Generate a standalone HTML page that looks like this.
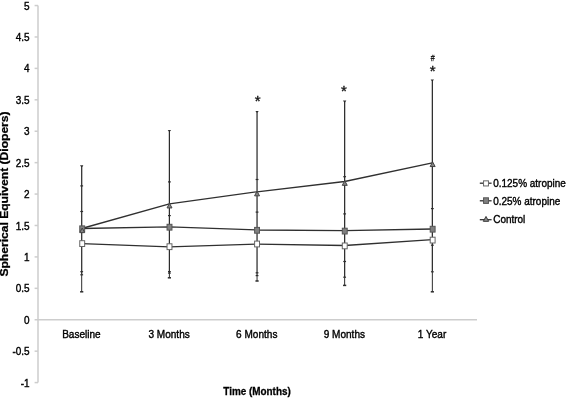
<!DOCTYPE html>
<html lang="en"><head><meta charset="utf-8"><title>Spherical Equivalent over Time</title>
<style>html,body{margin:0;padding:0;background:#fff}body{width:567px;height:399px;overflow:hidden}</style>
</head><body>
<svg width="567" height="399" viewBox="0 0 567 399" style="display:block">
<rect width="567" height="399" fill="#fff"/>
<g stroke="#cdcdcd" stroke-width="1.5" fill="none">
<line x1="38" y1="5.55" x2="38" y2="382.59"/>
<line x1="34.6" y1="319.75" x2="477" y2="319.75"/>
<line x1="34.6" y1="382.59" x2="38" y2="382.59"/>
<line x1="34.6" y1="351.17" x2="38" y2="351.17"/>
<line x1="34.6" y1="288.33" x2="38" y2="288.33"/>
<line x1="34.6" y1="256.91" x2="38" y2="256.91"/>
<line x1="34.6" y1="225.49" x2="38" y2="225.49"/>
<line x1="34.6" y1="194.07" x2="38" y2="194.07"/>
<line x1="34.6" y1="162.65" x2="38" y2="162.65"/>
<line x1="34.6" y1="131.23" x2="38" y2="131.23"/>
<line x1="34.6" y1="99.81" x2="38" y2="99.81"/>
<line x1="34.6" y1="68.39" x2="38" y2="68.39"/>
<line x1="34.6" y1="36.97" x2="38" y2="36.97"/>
<line x1="34.6" y1="5.55" x2="38" y2="5.55"/>
</g>
<g font-family="'Liberation Sans', Arial, sans-serif" font-size="11.4" fill="#000" stroke="#000" stroke-width="0.4" text-anchor="end">
<text transform="translate(29.6 386.64) scale(0.875 1)">-1</text>
<text transform="translate(29.6 355.22) scale(0.875 1)">-0.5</text>
<text transform="translate(29.6 323.80) scale(0.875 1)">0</text>
<text transform="translate(29.6 292.38) scale(0.875 1)">0.5</text>
<text transform="translate(29.6 260.96) scale(0.875 1)">1</text>
<text transform="translate(29.6 229.54) scale(0.875 1)">1.5</text>
<text transform="translate(29.6 198.12) scale(0.875 1)">2</text>
<text transform="translate(29.6 166.70) scale(0.875 1)">2.5</text>
<text transform="translate(29.6 135.28) scale(0.875 1)">3</text>
<text transform="translate(29.6 103.86) scale(0.875 1)">3.5</text>
<text transform="translate(29.6 72.44) scale(0.875 1)">4</text>
<text transform="translate(29.6 41.02) scale(0.875 1)">4.5</text>
<text transform="translate(29.6 9.60) scale(0.875 1)">5</text>
</g>
<g font-family="'Liberation Sans', Arial, sans-serif" font-size="11.3" fill="#000" stroke="#000" stroke-width="0.4" text-anchor="middle">
<text transform="translate(81.40 338.3) scale(0.89 1)">Baseline</text>
<text transform="translate(169.10 338.3) scale(0.89 1)">3 Months</text>
<text transform="translate(256.75 338.3) scale(0.89 1)">6 Months</text>
<text transform="translate(344.35 338.3) scale(0.89 1)">9 Months</text>
<text transform="translate(432.05 338.3) scale(0.89 1)">1 Year</text>
</g>
<text font-family="'Liberation Sans', Arial, sans-serif" font-size="11.2" font-weight="bold" fill="#000" stroke="#000" stroke-width="0.3" text-anchor="middle" transform="translate(257.0 394.9) scale(0.885 1)">Time (Months)</text>
<text font-family="'Liberation Sans', Arial, sans-serif" font-size="12.1" font-weight="bold" fill="#000" stroke="#000" stroke-width="0.3" text-anchor="middle" transform="translate(8.4 194.0) rotate(-90) scale(1 0.86)">Spherical Equivent (Diopers)</text>
<g stroke="#2c2c2c" stroke-width="1.05" fill="none">
<line x1="81.7" y1="166.0" x2="81.7" y2="274.8" stroke-width="1.25"/>
<line x1="81.7" y1="274.8" x2="81.7" y2="291.8" stroke-width="1.0"/>
<path d="M80.00 165.30 H83.40 L82.20 166.90 H81.20 Z" fill="#2c2c2c" stroke="none"/>
<line x1="80.30" y1="185.9" x2="83.10" y2="185.9" stroke-width="1.2"/>
<line x1="80.30" y1="211.5" x2="83.10" y2="211.5" stroke-width="1.2"/>
<line x1="80.30" y1="271.7" x2="83.10" y2="271.7" stroke-width="1.2"/>
<line x1="80.30" y1="274.8" x2="83.10" y2="274.8" stroke-width="1.2"/>
<line x1="80.10" y1="291.8" x2="83.30" y2="291.8" stroke-width="1.5"/>
<line x1="169.4" y1="130.6" x2="169.4" y2="273.1" stroke-width="1.25"/>
<line x1="169.4" y1="273.1" x2="169.4" y2="277.8" stroke-width="1.0"/>
<path d="M167.70 129.90 H171.10 L169.90 131.50 H168.90 Z" fill="#2c2c2c" stroke="none"/>
<line x1="168.00" y1="181.9" x2="170.80" y2="181.9" stroke-width="1.2"/>
<line x1="168.00" y1="215.6" x2="170.80" y2="215.6" stroke-width="1.2"/>
<line x1="168.00" y1="271.6" x2="170.80" y2="271.6" stroke-width="1.2"/>
<line x1="168.00" y1="273.1" x2="170.80" y2="273.1" stroke-width="1.2"/>
<line x1="167.80" y1="277.8" x2="171.00" y2="277.8" stroke-width="1.5"/>
<line x1="257.05" y1="111.6" x2="257.05" y2="275.6" stroke-width="1.25"/>
<line x1="257.05" y1="275.6" x2="257.05" y2="281.0" stroke-width="1.0"/>
<path d="M255.35 110.90 H258.75 L257.55 112.50 H256.55 Z" fill="#2c2c2c" stroke="none"/>
<line x1="255.65" y1="179.5" x2="258.45" y2="179.5" stroke-width="1.2"/>
<line x1="255.65" y1="212.1" x2="258.45" y2="212.1" stroke-width="1.2"/>
<line x1="255.65" y1="272.8" x2="258.45" y2="272.8" stroke-width="1.2"/>
<line x1="255.65" y1="275.6" x2="258.45" y2="275.6" stroke-width="1.2"/>
<line x1="255.45" y1="281.0" x2="258.65" y2="281.0" stroke-width="1.5"/>
<line x1="344.65" y1="101.3" x2="344.65" y2="277.2" stroke-width="1.25"/>
<line x1="344.65" y1="277.2" x2="344.65" y2="285.4" stroke-width="1.0"/>
<path d="M342.95 100.60 H346.35 L345.15 102.20 H344.15 Z" fill="#2c2c2c" stroke="none"/>
<line x1="343.25" y1="176.7" x2="346.05" y2="176.7" stroke-width="1.2"/>
<line x1="343.25" y1="213.9" x2="346.05" y2="213.9" stroke-width="1.2"/>
<line x1="343.25" y1="261.5" x2="346.05" y2="261.5" stroke-width="1.2"/>
<line x1="343.25" y1="277.2" x2="346.05" y2="277.2" stroke-width="1.2"/>
<line x1="343.05" y1="285.4" x2="346.25" y2="285.4" stroke-width="1.5"/>
<line x1="432.35" y1="80.1" x2="432.35" y2="271.8" stroke-width="1.25"/>
<line x1="432.35" y1="271.8" x2="432.35" y2="291.8" stroke-width="1.0"/>
<path d="M430.65 79.40 H434.05 L432.85 81.00 H431.85 Z" fill="#2c2c2c" stroke="none"/>
<line x1="430.95" y1="208.6" x2="433.75" y2="208.6" stroke-width="1.2"/>
<line x1="430.95" y1="245.2" x2="433.75" y2="245.2" stroke-width="1.2"/>
<line x1="430.95" y1="271.8" x2="433.75" y2="271.8" stroke-width="1.2"/>
<line x1="430.75" y1="291.8" x2="433.95" y2="291.8" stroke-width="1.5"/>
</g>
<g stroke="#303030" stroke-width="1.3" fill="none" stroke-linejoin="round">
<polyline points="81.7,243.6 169.4,246.8 257.05,244.1 344.65,245.5 432.35,239.7"/>
<polyline points="81.7,228.5 169.4,226.9 257.05,230.0 344.65,230.7 432.35,229.0"/>
<polyline points="81.7,228.5 169.4,203.8 257.05,191.8 344.65,181.5 432.35,162.8"/>
</g>
<rect x="79.75" y="225.90" width="4.9" height="5.8" fill="#808080" stroke="#555" stroke-width="1"/>
<rect x="79.75" y="240.70" width="4.9" height="5.8" fill="#ffffff" stroke="#666" stroke-width="1"/>
<path d="M82.20 228.05 L84.70 232.65 L79.70 232.65 Z" fill="#858585" stroke="#444" stroke-width="1"/>
<rect x="167.05" y="224.30" width="4.9" height="5.8" fill="#808080" stroke="#555" stroke-width="1"/>
<rect x="167.05" y="243.80" width="4.9" height="5.8" fill="#ffffff" stroke="#666" stroke-width="1"/>
<path d="M169.50 203.35 L172.00 207.95 L167.00 207.95 Z" fill="#858585" stroke="#444" stroke-width="1"/>
<rect x="254.60" y="227.40" width="4.9" height="5.8" fill="#808080" stroke="#555" stroke-width="1"/>
<rect x="254.60" y="241.10" width="4.9" height="5.8" fill="#ffffff" stroke="#666" stroke-width="1"/>
<path d="M257.05 191.25 L259.55 195.85 L254.55 195.85 Z" fill="#858585" stroke="#444" stroke-width="1"/>
<rect x="342.30" y="228.20" width="4.9" height="5.8" fill="#808080" stroke="#555" stroke-width="1"/>
<rect x="342.30" y="243.00" width="4.9" height="5.8" fill="#ffffff" stroke="#666" stroke-width="1"/>
<path d="M344.75 180.75 L347.25 185.35 L342.25 185.35 Z" fill="#858585" stroke="#444" stroke-width="1"/>
<rect x="430.20" y="226.30" width="4.9" height="5.8" fill="#808080" stroke="#555" stroke-width="1"/>
<rect x="430.20" y="237.20" width="4.9" height="5.8" fill="#ffffff" stroke="#666" stroke-width="1"/>
<path d="M432.65 161.95 L435.15 166.55 L430.15 166.55 Z" fill="#858585" stroke="#444" stroke-width="1"/>
<g font-family="'Liberation Sans', Arial, sans-serif" fill="#111" text-anchor="middle">
<text x="257.7" y="106.0" font-size="15" stroke="#111" stroke-width="0.35">*</text>
<text x="344.0" y="95.7" font-size="15" stroke="#111" stroke-width="0.35">*</text>
<text x="432.7" y="76.0" font-size="15" stroke="#111" stroke-width="0.35">*</text>
<text transform="translate(432.8 60.6) scale(0.8 1)" font-size="8.8" stroke="#111" stroke-width="0.3">#</text>
</g>
<g stroke="#303030" stroke-width="1.3">
<line x1="479.8" y1="183.2" x2="491.6" y2="183.2"/>
<line x1="479.8" y1="200.8" x2="491.6" y2="200.8"/>
<line x1="479.8" y1="219.7" x2="491.6" y2="219.7"/>
</g>
<rect x="483.55" y="180.85" width="4.9" height="5.1" fill="#fff" stroke="#666" stroke-width="1"/>
<rect x="483.55" y="197.80" width="4.9" height="5.6" fill="#808080" stroke="#555" stroke-width="1"/>
<path d="M486.00 216.45 L488.70 221.35 L483.30 221.35 Z" fill="#888" stroke="#3c3c3c" stroke-width="1"/>
<g font-family="'Liberation Sans', Arial, sans-serif" font-size="11.5" fill="#000" stroke="#000" stroke-width="0.4">
<text transform="translate(493.2 187.30) scale(0.868 1)">0.125% atropine</text>
<text transform="translate(493.2 205.10) scale(0.868 1)">0.25% atropine</text>
<text transform="translate(493.2 223.40) scale(0.868 1)">Control</text>
</g>
</svg>
</body></html>
